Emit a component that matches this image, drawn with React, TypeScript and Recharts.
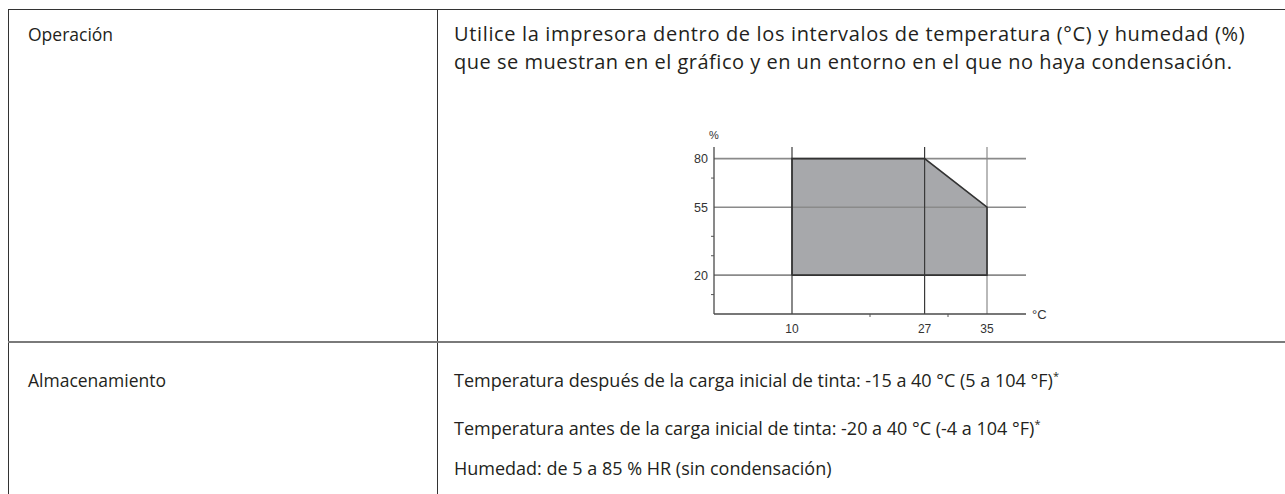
import React from 'react';
import {
  ComposedChart,
  XAxis,
  YAxis,
  Area,
  Line,
  ReferenceLine,
  ReferenceDot,
} from 'recharts';

// axis ticks
const tempMajor = [10, 27, 35];
const tempMinor = [20, 30];
const humMajor = [20, 55, 80];
const humMinor = [10, 30, 40, 70];
const tempDomain = [0, 40];
const humDomain = [0, 86];
const tempUnit = '°C';
const humUnit = '%';

// operating range (fill): temperature with lower / upper humidity
const rangeTemp = [10, 27, 35];
const rangeLow = [20, 20, 20];
const rangeHigh = [80, 80, 55];

// outline of the same range, walked corner by corner
const edgeTemp = [10, 10, 27, 35, 35, 10];
const edgeHum = [20, 80, 80, 55, 20, 20];

const opText = [
  'Utilice la impresora dentro de los intervalos de temperatura (°C) y humedad (%)',
  'que se muestran en el gráfico y en un entorno en el que no haya condensación.',
];
const storageText = [
  'Temperatura después de la carga inicial de tinta: -15 a 40 °C (5 a 104 °F)',
  'Temperatura antes de la carga inicial de tinta: -20 a 40 °C (-4 a 104 °F)',
  'Humedad: de 5 a 85 % HR (sin condensación)',
];
const storageNote = [true, true, false];

const TEXT = '#231f20';
const TICK_FONT = "'Liberation Sans', Arial, sans-serif";

function TempTick(props: any) {
  const { x, y, payload } = props;
  const v = payload.value;
  if (tempMajor.includes(v)) {
    return (
      <text x={x} y={y + 19} textAnchor="middle" fontSize={12} fill="#333" fontFamily={TICK_FONT}>
        {v}
      </text>
    );
  }
  return <line x1={x} x2={x} y1={y} y2={y + 3} stroke="#555" strokeWidth={1} />;
}

function HumTick(props: any) {
  const { x, y, payload } = props;
  const v = payload.value;
  if (humMajor.includes(v)) {
    return (
      <text x={x - 6} y={y + 4.5} textAnchor="end" fontSize={12.5} fill="#333" fontFamily={TICK_FONT}>
        {v}
      </text>
    );
  }
  return <line x1={x} x2={x - 3} y1={y} y2={y} stroke="#555" strokeWidth={1} />;
}

const vGridColors = ['#3a3a3a', '#3a3a3a', '#8a8a8a'];

function RangeChart() {
  const bandData = rangeTemp.map((t, i) => ({ t, band: [rangeLow[i], rangeHigh[i]] }));
  const edgeData = edgeTemp.map((t, i) => ({ t, h: edgeHum[i] }));

  return (
    <ComposedChart width={400} height={220} margin={{ top: 27, right: 34, left: 0, bottom: 0 }}>
      <XAxis
        type="number"
        dataKey="t"
        domain={tempDomain}
        ticks={[...tempMajor, ...tempMinor].sort((a, b) => a - b)}
        interval={0}
        height={26}
        tickSize={0}
        tickMargin={0}
        tickLine={false}
        axisLine={{ stroke: '#4a4a4a', strokeWidth: 1.3 }}
        tick={<TempTick />}
        allowDataOverflow
      />
      <YAxis
        type="number"
        domain={humDomain}
        ticks={[...humMinor, ...humMajor].sort((a, b) => a - b)}
        interval={0}
        width={54}
        tickSize={0}
        tickMargin={0}
        tickLine={false}
        axisLine={{ stroke: '#4a4a4a', strokeWidth: 1.3 }}
        tick={<HumTick />}
        allowDataOverflow
      />
      <Area
        data={bandData}
        dataKey="band"
        type="linear"
        fill="#a7a8ab"
        fillOpacity={1}
        stroke="none"
        isAnimationActive={false}
      />
      {humMajor.map((v) => (
        <ReferenceLine key={'h' + v} y={v} stroke="#8a8a8a" strokeWidth={1.6} />
      ))}
      {tempMajor.map((v, i) => (
        <ReferenceLine key={'t' + v} x={v} stroke={vGridColors[i]} strokeWidth={1.2} />
      ))}
      <Line
        data={edgeData}
        dataKey="h"
        type="linear"
        stroke="#333"
        strokeWidth={1.6}
        dot={false}
        activeDot={false}
        isAnimationActive={false}
      />
      <ReferenceDot
        x={tempDomain[0]}
        y={humDomain[1]}
        r={0}
        fill="none"
        stroke="none"
        label={{ value: humUnit, position: 'top', offset: 8, fontSize: 11, fill: '#333', fontFamily: TICK_FONT }}
      />
      <ReferenceDot
        x={tempDomain[1]}
        y={humDomain[0]}
        r={0}
        fill="none"
        stroke="none"
        label={{ value: tempUnit, position: 'right', offset: 6, fontSize: 13, fill: '#333', fontFamily: TICK_FONT }}
      />
    </ComposedChart>
  );
}

const line = (top: number, left: number, size: number, spacing = 0): React.CSSProperties => ({
  position: 'absolute',
  top,
  left,
  height: 26,
  lineHeight: '26px',
  fontSize: size,
  letterSpacing: spacing,
  whiteSpace: 'nowrap',
});

export default function App() {
  return (
    <div
      style={{
        position: 'absolute',
        left: 0,
        top: 0,
        width: 1285,
        height: 494,
        overflow: 'hidden',
        background: '#fff',
        fontFamily: "'Open Sans', sans-serif",
        color: TEXT,
      }}
    >
      {/* table rules */}
      <div style={{ position: 'absolute', left: 8, top: 9, width: 1277, height: 1, background: '#333' }} />
      <div style={{ position: 'absolute', left: 8, top: 9, width: 1, height: 485, background: '#333' }} />
      <div style={{ position: 'absolute', left: 437, top: 9, width: 1, height: 485, background: '#333' }} />
      <div style={{ position: 'absolute', left: 8, top: 341, width: 1277, height: 2, background: '#7a7a7a' }} />

      <div style={line(21, 28, 17.5)}>Operación</div>
      <div style={line(21, 454, 20, 0.65)}>{opText[0]}</div>
      <div style={line(49, 454, 20, 0.5)}>{opText[1]}</div>

      <div style={{ position: 'absolute', left: 660, top: 120 }}>
        <RangeChart />
      </div>

      <div style={line(367, 28, 17.5)}>Almacenamiento</div>
      {storageText.map((s, i) => (
        <div key={s} style={line([367, 415, 455][i], 454, 18)}>
          {s}
          {storageNote[i] && <sup style={{ fontSize: 11, verticalAlign: 'top', lineHeight: '18px' }}>*</sup>}
        </div>
      ))}
    </div>
  );
}
